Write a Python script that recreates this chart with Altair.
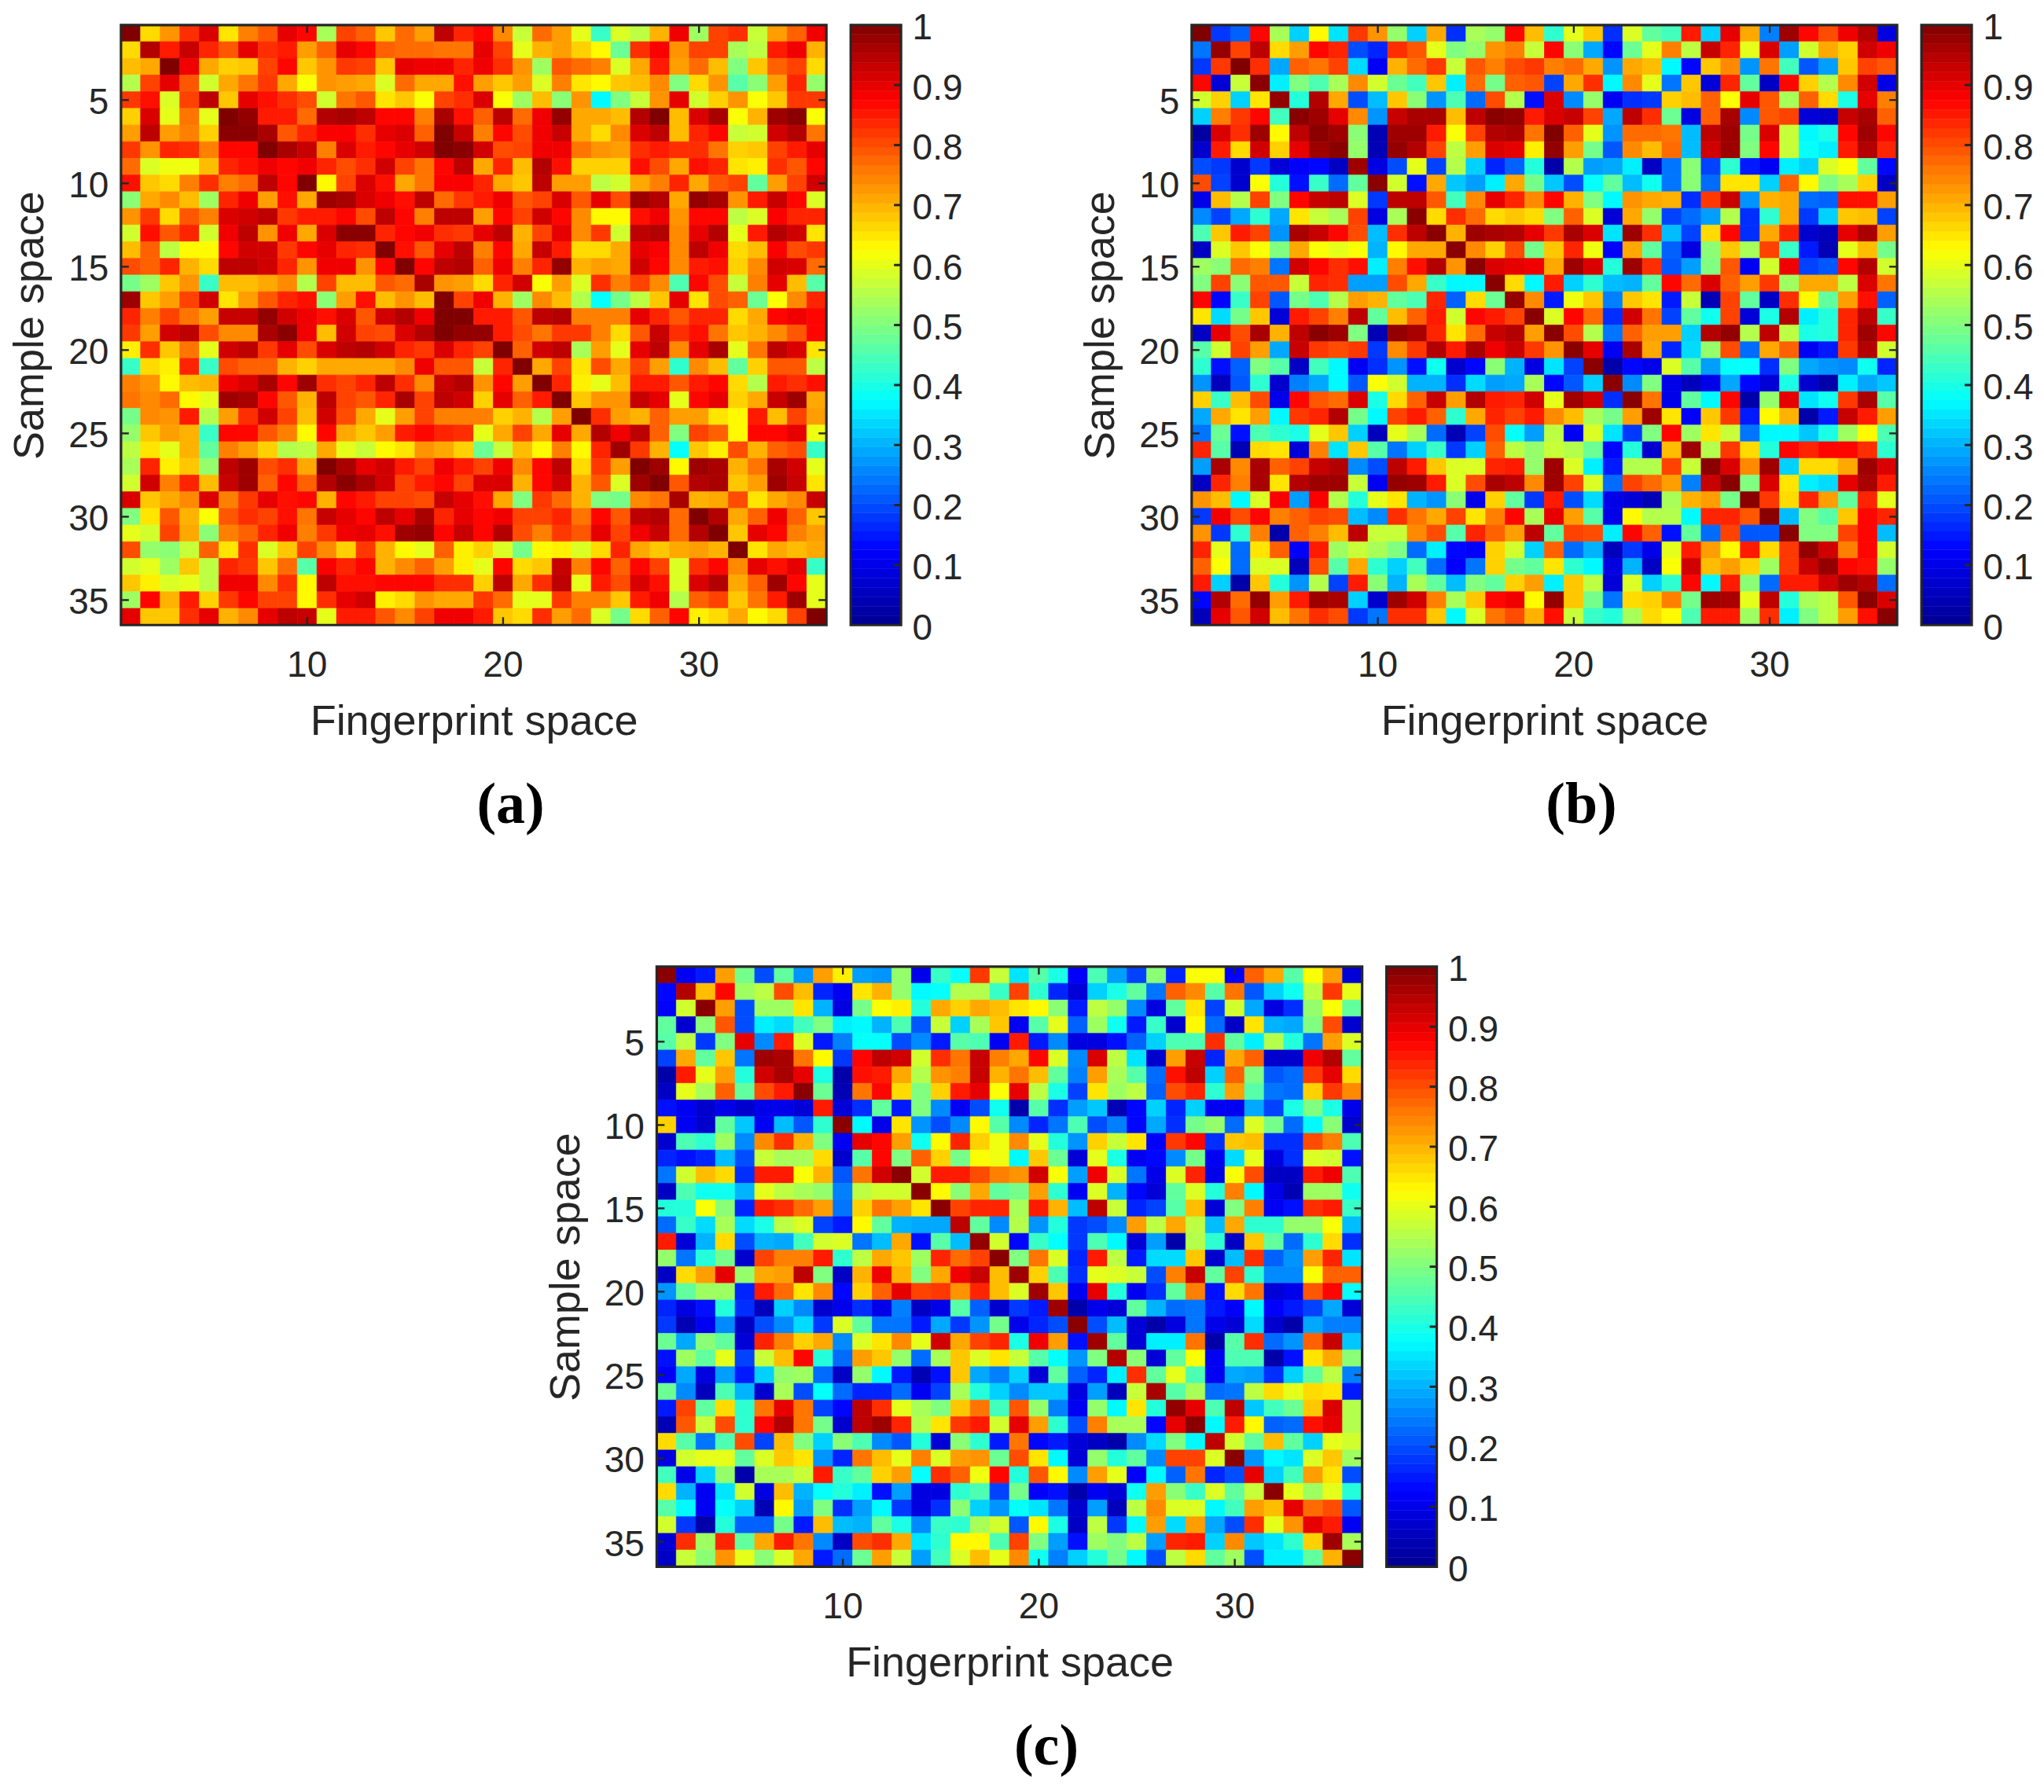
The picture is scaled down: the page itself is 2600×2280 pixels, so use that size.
import altair as alt
import pandas as pd

PANEL_A = [
[100,66,73,83,91,65,75,79,90,87,54,81,78,68,77,72,94,84,87,74,57,77,72,60,43,59,56,70,89,53,81,83,57,72,78,89],
[66,95,85,93,84,79,90,83,85,72,78,90,87,78,77,77,76,76,90,81,60,70,72,67,63,48,83,88,73,81,81,54,56,85,89,70],
[69,71,100,89,71,67,68,81,87,68,73,82,81,68,90,89,89,84,89,83,73,53,79,77,75,59,71,85,72,77,69,50,68,78,81,66],
[55,81,90,79,58,71,76,82,71,62,73,72,71,59,77,71,71,86,72,68,72,59,75,65,63,68,69,74,50,66,73,46,51,72,84,52],
[82,86,59,81,94,68,90,86,83,80,58,76,79,65,68,62,81,83,91,62,53,69,51,73,37,50,57,73,90,58,67,73,62,68,82,82],
[67,91,60,76,60,100,98,85,85,77,95,96,94,87,87,75,96,86,78,94,77,89,98,71,71,69,95,100,69,91,96,62,70,97,99,62],
[72,94,72,75,67,99,99,96,79,84,88,88,83,90,91,78,100,93,75,87,80,89,93,71,66,74,91,94,69,84,87,57,58,92,95,76],
[82,73,84,83,75,87,87,100,96,93,75,91,85,87,90,92,100,99,92,80,81,89,89,76,73,72,83,85,83,83,76,67,68,81,85,90],
[77,59,61,61,69,84,86,89,87,89,84,80,83,92,81,76,87,94,71,84,69,95,86,67,67,67,86,80,71,86,84,65,64,83,79,87],
[86,68,66,75,83,75,77,94,87,100,63,81,91,86,71,76,88,88,84,71,68,94,72,72,56,58,71,75,84,71,79,81,47,72,81,92],
[51,71,74,69,53,84,89,72,86,71,97,96,91,89,86,94,77,82,85,89,79,81,91,79,90,80,97,95,71,98,96,73,85,93,87,59],
[73,82,66,79,75,91,92,94,82,85,85,87,80,94,87,75,94,94,72,87,81,92,87,74,63,63,86,89,73,87,87,56,59,88,84,84],
[58,86,79,84,58,89,94,73,89,71,91,99,99,84,87,89,83,82,90,94,70,81,90,74,82,58,94,95,74,90,95,60,85,95,92,65],
[69,78,56,63,63,87,92,92,82,87,90,84,83,100,86,79,90,94,75,87,71,93,85,66,66,71,90,88,74,94,89,66,69,88,80,82],
[80,78,84,70,66,94,94,92,84,73,89,89,73,87,100,87,94,95,78,89,75,84,98,70,72,71,92,87,74,85,86,67,74,92,91,77],
[49,53,68,73,43,69,69,71,74,55,81,69,69,79,77,96,73,72,66,84,92,62,72,59,83,75,81,74,45,87,80,57,75,90,69,46],
[97,68,72,81,92,65,72,79,84,86,51,72,86,69,73,69,100,81,89,70,53,74,69,55,38,49,56,68,90,65,80,78,48,62,74,84],
[84,75,81,76,72,93,93,98,92,89,86,91,79,92,95,89,100,100,85,85,79,94,95,75,75,75,90,84,79,84,84,66,71,87,89,87],
[82,72,92,94,80,74,74,96,99,89,69,92,81,80,91,95,100,98,98,85,80,76,82,82,75,66,79,93,83,86,76,68,70,74,79,87],
[64,83,68,76,60,92,94,82,90,80,91,94,95,92,84,82,91,84,81,100,78,92,94,54,72,60,90,94,74,90,96,60,76,94,91,65],
[43,66,64,84,43,80,78,78,70,67,71,71,71,71,74,89,79,79,57,84,100,71,81,65,80,71,81,72,42,74,69,47,67,79,79,56],
[75,73,63,69,70,89,91,96,87,97,83,81,84,94,83,74,93,95,73,87,72,100,84,64,60,69,85,85,79,85,87,66,55,85,83,86],
[76,74,77,63,60,97,96,87,79,70,94,81,79,84,96,81,94,92,67,90,78,85,100,68,73,73,93,90,60,87,90,67,71,93,97,71],
[49,74,73,85,55,72,83,92,81,69,92,80,71,60,72,81,75,75,75,67,70,55,72,100,83,72,70,78,72,72,65,63,85,69,81,72],
[52,68,72,70,43,87,87,79,75,63,87,71,68,72,85,87,84,83,60,71,81,71,90,71,95,89,94,78,50,81,78,63,87,87,90,61],
[56,65,60,70,47,75,72,67,55,56,71,60,57,63,65,73,71,67,48,57,69,63,75,63,84,97,82,70,38,68,64,80,70,78,80,43],
[54,84,64,68,52,94,97,80,83,71,100,96,90,92,85,81,89,85,81,89,74,87,94,66,82,72,100,97,63,97,96,70,76,96,92,60],
[58,92,75,84,69,93,97,78,87,78,95,99,96,92,81,85,87,81,91,91,70,87,92,70,79,59,97,100,79,95,96,68,72,97,93,65],
[91,68,71,74,91,75,82,90,86,87,70,87,85,81,81,80,93,90,86,71,50,82,77,70,50,49,74,76,96,70,71,80,65,71,74,93],
[50,65,79,70,62,79,83,81,86,76,93,90,87,94,90,96,84,90,87,89,81,81,84,76,87,79,94,95,77,100,95,71,78,89,78,68],
[60,58,81,71,51,75,78,84,89,75,82,89,90,86,97,98,87,93,87,95,80,75,82,79,90,81,89,93,77,95,100,68,90,87,75,72],
[80,52,51,57,78,65,83,59,68,81,74,67,82,70,63,60,78,64,67,59,49,63,64,59,66,84,71,68,71,72,70,100,65,71,69,71],
[58,60,53,68,56,84,82,68,77,46,88,84,87,70,74,78,72,64,60,87,66,68,93,75,87,78,87,81,59,83,87,74,90,86,90,43],
[68,64,59,60,56,89,89,74,83,63,94,86,86,87,87,87,83,83,67,94,71,83,94,60,85,80,91,86,59,91,95,71,78,97,87,60],
[53,87,70,85,67,82,87,81,81,63,83,90,92,64,66,73,71,71,82,77,60,60,82,75,75,68,85,89,55,78,81,68,76,85,97,60],
[90,68,68,83,90,70,74,90,94,93,60,85,85,79,74,81,89,89,85,68,66,83,72,77,59,49,66,78,87,64,66,71,63,66,81,100],
]

PANEL_B = [
[100,18,22,87,54,33,63,35,82,73,52,33,71,17,54,52,87,69,42,60,68,17,59,47,44,85,33,90,71,25,97,87,80,89,95,9],
[24,98,81,94,66,72,87,84,20,16,83,79,60,50,52,73,75,57,87,51,29,13,48,60,75,56,93,84,60,91,28,58,71,67,92,89],
[18,82,100,83,29,78,76,81,34,11,70,77,82,57,79,75,80,82,75,77,71,27,71,69,37,13,68,74,27,76,44,21,28,68,81,79],
[87,8,57,99,36,50,45,54,74,58,48,44,68,36,77,49,78,79,19,71,83,37,74,60,24,68,8,84,47,6,87,67,55,74,92,10],
[58,67,33,65,98,41,95,71,20,31,68,51,27,45,23,80,55,14,91,26,52,11,17,18,67,69,78,62,90,79,54,78,66,40,90,75],
[33,75,82,87,44,99,97,90,74,27,93,96,96,69,94,99,98,85,91,93,81,29,94,83,48,9,78,96,26,79,81,8,7,93,96,78],
[2,91,83,97,63,94,99,97,51,4,97,97,85,62,81,95,96,76,100,78,60,27,77,77,76,31,94,97,49,91,57,37,40,87,97,87],
[7,85,66,92,67,90,97,99,52,4,98,95,81,56,72,91,90,64,98,72,49,21,74,69,77,31,92,97,50,87,57,38,36,85,95,84],
[20,18,7,18,8,12,13,6,97,9,20,60,19,55,33,16,22,41,3,55,28,29,36,6,24,51,19,42,15,11,36,33,59,62,47,13],
[80,19,7,62,41,14,43,23,47,99,58,14,71,32,28,36,71,49,32,20,38,47,31,39,24,51,23,65,65,33,78,63,50,54,67,6],
[10,69,55,81,50,87,93,94,59,18,94,94,79,44,74,90,84,74,87,70,50,37,73,71,70,17,82,93,27,70,71,23,22,86,86,72],
[26,19,29,42,29,65,57,54,81,9,54,99,66,83,77,66,68,66,50,78,59,8,71,52,19,23,28,55,17,42,71,18,33,68,69,19],
[45,68,85,81,27,96,93,87,80,31,83,94,99,70,97,96,95,90,82,96,91,35,97,83,31,19,66,87,17,71,84,7,5,90,96,72],
[6,59,68,62,50,71,62,60,62,30,63,71,71,99,74,67,80,49,68,84,61,12,71,47,22,9,51,68,54,81,43,15,4,60,69,49],
[53,51,77,75,24,92,87,83,86,36,75,86,95,73,99,91,90,89,71,97,91,41,97,83,21,28,50,79,11,58,89,19,21,87,95,58],
[50,81,51,79,79,57,84,83,28,28,80,71,43,37,37,99,66,37,85,33,42,31,30,47,87,77,91,78,72,82,53,71,71,56,91,76],
[87,13,43,81,21,49,45,55,72,70,47,45,84,22,66,48,98,74,15,61,68,25,68,65,15,57,4,81,47,6,83,63,47,72,86,22],
[65,34,49,68,8,85,81,75,94,47,69,78,85,58,87,85,81,99,59,87,77,17,92,76,19,47,39,81,8,40,95,36,41,84,94,43],
[6,90,80,96,70,94,99,97,50,4,98,96,84,65,77,93,95,72,99,80,55,24,78,72,72,33,95,98,55,94,56,40,41,84,97,87],
[46,58,81,72,29,93,82,80,82,18,74,82,95,85,96,89,93,82,73,99,90,11,96,71,16,34,52,80,23,71,78,11,15,82,95,58],
[42,14,22,50,46,6,44,37,11,17,27,14,39,7,13,51,30,9,35,19,99,3,13,10,59,46,28,38,38,17,50,29,27,26,39,16],
[27,5,21,42,7,25,29,37,21,62,58,30,30,17,34,28,29,54,13,21,33,99,26,50,10,5,10,29,13,8,40,7,3,36,29,32],
[67,43,69,80,10,87,79,77,91,40,66,78,93,72,95,85,84,92,60,97,92,17,99,76,10,47,37,87,3,52,90,35,39,82,96,46],
[29,71,65,72,37,82,84,95,49,37,81,85,78,42,71,84,81,85,74,69,54,49,72,97,65,12,68,82,15,63,70,3,15,93,85,72],
[24,48,14,45,42,40,60,68,33,5,60,54,23,4,19,80,38,28,56,11,59,35,18,50,87,53,65,57,24,37,37,32,40,53,63,45],
[84,46,4,66,65,8,75,35,68,46,24,33,43,18,33,78,56,52,57,55,48,13,41,7,69,97,55,82,66,41,87,84,87,87,83,42],
[28,96,74,96,78,81,93,95,26,20,94,85,68,59,59,84,85,52,97,59,36,15,55,55,81,57,99,91,74,97,33,66,66,71,97,91],
[6,84,75,96,65,95,97,97,57,11,98,97,85,59,80,96,94,74,97,81,59,23,81,77,72,25,93,99,50,91,65,36,34,90,96,85],
[73,69,37,59,88,28,88,55,41,60,65,30,27,51,10,67,47,18,85,20,34,10,8,4,54,70,72,49,99,82,66,84,72,47,84,60],
[18,89,80,87,75,78,81,80,31,26,83,76,71,81,65,75,87,54,90,72,46,10,63,55,55,37,84,84,79,99,31,50,46,68,87,84],
[73,18,42,75,3,78,75,69,94,57,57,74,80,46,84,78,72,94,47,81,80,36,87,78,14,47,23,81,21,21,99,50,50,81,87,31],
[84,60,23,65,78,12,85,53,57,54,50,23,36,13,12,67,58,33,78,23,30,5,18,10,60,85,72,63,85,66,82,98,92,75,87,58],
[78,62,23,59,59,5,80,46,71,42,33,44,23,12,24,67,49,47,65,42,37,9,30,6,62,92,69,72,67,53,82,93,98,87,86,52],
[85,33,3,68,41,27,55,19,85,51,30,54,47,31,50,47,67,72,36,68,56,8,59,33,42,87,37,85,51,23,85,85,92,97,95,23],
[13,95,77,98,72,85,97,96,33,7,97,92,75,54,68,87,89,63,98,68,49,24,66,67,75,49,97,96,60,94,41,54,56,79,99,91],
[5,90,79,92,69,76,83,80,18,24,83,83,68,37,59,76,80,70,86,57,43,41,54,66,63,45,85,85,53,83,36,50,56,72,86,99],
]

PANEL_C = [
[99,11,15,72,49,20,47,27,72,64,28,27,52,10,43,38,82,57,35,46,40,12,45,28,19,51,16,62,62,12,78,71,46,62,72,8],
[13,95,69,87,53,56,80,69,16,11,65,70,52,37,38,55,55,43,81,42,16,8,33,40,47,24,78,74,46,76,21,33,39,56,82,60],
[12,58,99,72,20,53,53,65,30,9,49,62,64,41,71,67,71,69,65,63,51,15,56,52,26,9,47,65,19,58,29,9,17,52,62,47],
[47,7,51,79,20,36,34,44,50,36,37,30,45,21,57,33,54,68,11,46,60,22,53,39,15,43,7,63,23,6,65,30,29,50,80,7],
[46,56,18,50,90,26,85,59,15,25,38,38,20,26,15,46,45,11,85,15,26,9,9,14,22,33,45,45,83,47,36,55,41,24,72,59],
[19,71,47,68,24,97,96,76,63,18,87,94,92,58,83,76,93,75,71,87,59,26,91,56,35,7,72,93,16,71,78,7,7,89,95,47],
[3,85,60,72,41,92,96,90,40,3,86,85,71,55,73,75,93,70,76,69,47,25,72,54,46,23,86,94,33,78,50,21,23,82,90,66],
[6,60,54,78,47,80,85,99,48,4,76,87,66,50,67,85,90,62,90,56,40,19,65,53,56,22,80,84,42,72,46,24,23,67,82,74],
[14,11,7,10,7,10,10,8,85,8,17,47,15,50,26,11,20,39,3,46,17,28,32,4,13,33,16,33,11,11,29,19,40,50,40,10],
[67,11,7,47,32,11,31,21,42,99,37,10,65,27,20,26,63,46,26,16,24,45,20,25,13,29,17,49,52,23,59,49,23,37,51,7],
[7,45,42,53,26,74,83,70,50,11,90,87,72,39,63,84,67,61,74,60,41,27,67,57,65,12,82,87,17,68,69,17,17,80,75,45],
[16,14,16,31,20,57,54,54,66,7,46,87,50,78,67,49,62,61,37,68,48,8,60,40,11,13,26,49,11,34,60,9,17,59,58,14],
[24,58,69,66,17,85,85,62,70,21,76,92,99,58,85,85,80,75,73,92,62,28,89,59,24,10,59,84,10,62,80,6,6,85,89,45],
[6,45,39,39,30,60,56,54,52,25,56,58,58,99,63,51,71,47,49,72,42,11,59,30,13,8,47,59,41,75,37,10,4,53,53,39],
[41,41,62,51,16,85,83,77,72,24,67,76,72,65,99,81,84,84,54,85,70,31,94,57,16,19,46,69,8,50,75,11,14,83,85,43],
[23,43,34,54,34,40,56,59,19,15,63,47,30,29,29,94,47,26,55,27,41,18,20,26,72,56,71,56,31,71,42,42,52,52,62,31],
[85,8,30,66,20,30,29,44,58,59,24,31,71,14,46,31,98,58,13,43,38,18,45,37,8,28,3,55,42,6,68,47,23,42,66,17],
[52,24,41,49,7,81,75,75,85,42,56,71,68,53,84,77,81,99,50,76,59,16,85,56,15,34,34,68,7,31,83,22,27,72,84,35],
[6,66,72,90,52,71,72,94,50,6,70,89,70,50,71,89,93,69,97,67,45,17,60,59,57,20,75,93,47,81,42,26,26,62,78,78],
[27,47,53,53,16,85,77,65,74,13,67,78,90,81,82,73,84,69,59,97,68,11,90,41,11,17,47,75,14,66,76,8,10,79,87,38],
[16,9,14,41,17,5,33,26,7,10,17,10,25,6,10,46,22,7,18,15,97,3,10,8,47,30,23,24,15,12,37,12,15,19,29,8],
[18,4,11,26,6,20,26,34,18,59,47,24,24,15,29,18,27,49,10,16,20,99,20,31,8,3,9,24,10,8,34,7,3,29,25,25],
[48,29,51,47,8,84,75,67,71,26,59,65,74,60,92,71,81,84,40,89,72,14,97,47,8,36,36,76,3,46,83,23,27,78,93,32],
[14,53,47,60,19,57,69,87,41,23,72,68,52,23,54,68,59,65,57,46,38,27,50,95,51,8,47,62,11,45,45,3,14,65,71,51],
[12,29,9,28,15,33,52,53,23,6,52,37,15,4,14,68,29,25,33,8,47,22,16,36,83,47,60,45,11,29,28,17,33,47,56,25],
[48,26,5,45,30,7,54,20,38,23,16,16,23,11,19,54,41,33,26,32,32,9,28,5,57,96,46,54,23,24,56,66,60,66,65,15],
[15,81,47,66,42,76,90,76,19,13,94,83,60,54,50,68,76,44,79,52,25,11,52,37,65,41,98,90,45,94,32,44,48,68,91,55],
[4,79,57,80,42,87,95,76,49,7,94,97,84,55,65,82,85,58,90,72,42,20,75,54,54,13,90,99,37,85,63,22,23,86,90,55],
[66,46,24,45,80,19,69,50,33,51,45,26,21,41,8,51,42,15,76,13,15,8,6,3,26,34,50,37,94,58,47,69,47,33,60,58],
[9,58,60,60,47,59,68,65,27,16,76,69,60,75,59,72,73,48,80,65,37,8,52,41,47,26,81,81,59,99,27,37,35,59,68,53],
[44,10,33,52,3,54,54,57,85,43,47,67,72,38,83,78,61,87,41,79,63,26,72,60,12,37,22,76,16,20,90,33,44,72,65,20],
[66,30,11,35,58,9,69,30,38,41,36,14,28,9,9,42,45,19,49,12,14,3,11,8,39,72,51,43,59,47,57,99,60,53,60,41],
[46,37,11,38,33,4,63,28,50,17,28,37,18,9,17,51,33,27,38,35,24,7,28,5,56,74,59,59,37,44,72,69,90,77,80,21],
[58,18,3,41,22,22,49,15,69,31,30,47,40,26,43,42,54,58,21,63,40,6,56,18,37,72,34,72,29,20,83,60,73,90,85,11],
[8,83,53,84,47,71,85,76,26,6,80,83,71,35,42,63,63,45,81,50,28,14,53,50,56,28,84,85,33,74,32,35,42,67,97,54],
[6,57,51,73,60,51,59,71,15,23,48,72,57,28,44,59,69,60,74,39,25,33,41,49,37,20,56,66,47,53,20,36,36,47,70,99],
]

X_TICKS = [10, 20, 30]
Y_TICKS = [5, 10, 15, 20, 25, 30, 35]
CBAR_TICKS = [0, .1, .2, .3, .4, .5, .6, .7, .8, .9, 1]
CELLS = list(range(1, 37))
JET_STOPS = [0, .125, .375, .625, .875, 1]
JET_COLORS = ["#000090", "#0000ff", "#00ffff", "#ffff00", "#ff0000", "#800000"]

W, H, CB_W = 898, 764, 64
INK = "#262626"
FONT = "Liberation Sans"
jet = alt.Scale(domain=JET_STOPS, range=JET_COLORS, interpolate="rgb", clamp=True)
x_scale = alt.Scale(domain=CELLS, paddingInner=0, paddingOuter=0)
y_scale = alt.Scale(domain=CELLS, paddingInner=0, paddingOuter=0)
cb_scale = alt.Scale(domain=[0, 1], nice=False)
x_axis = alt.Axis(values=X_TICKS, labelAngle=0, labelPadding=29, titlePadding=22)
y_axis = alt.Axis(values=Y_TICKS, labelPadding=16, labelOffset=4, titlePadding=21)
cb_axis = alt.Axis(orient="right", values=CBAR_TICKS, format=".1~f", labelPadding=14, labelOffset=4)
X_TITLE = "Fingerprint space"
Y_TITLE = "Sample space"


def long_table(matrix):
    for i, row in enumerate(matrix):
        if len(row) != 36:
            raise ValueError(f"row {i + 1} has {len(row)} cells")
    if len(matrix) != 36:
        raise ValueError(f"{len(matrix)} rows")
    return pd.DataFrame(
        [{"col": c, "row": r, "v": row[c - 1] / 100}
         for r, row in zip(CELLS, matrix) for c in CELLS]
    )


one = pd.DataFrame({"k": [0]})


def frame(w, h):
    return alt.Chart(one).mark_rect(
        fill="transparent", stroke=INK, strokeWidth=3.2
    ).encode(
        x=alt.value(0), x2=alt.value(w), y=alt.value(0), y2=alt.value(h)
    )


def panel(matrix, letter):
    df = long_table(matrix)
    cells = alt.Chart(df).mark_rect(strokeWidth=0.7).encode(
        x=alt.X("col:O", scale=x_scale, title=X_TITLE, axis=x_axis),
        y=alt.Y("row:O", scale=y_scale, title=Y_TITLE, axis=y_axis),
        fill=alt.Fill("v:Q", scale=jet, legend=None),
        stroke=alt.Stroke("v:Q", scale=jet, legend=None),
    )
    xt = pd.DataFrame({"t": X_TICKS})
    yt = pd.DataFrame({"t": Y_TICKS})
    ex = alt.X("t:O", scale=x_scale, title=X_TITLE, axis=x_axis)
    ey = alt.Y("t:O", scale=y_scale, title=Y_TITLE, axis=y_axis)
    tick = dict(color=INK, strokeWidth=2.4)
    ticks = [
        alt.Chart(xt).mark_rule(**tick).encode(x=ex, y=alt.value(0), y2=alt.value(10)),
        alt.Chart(xt).mark_rule(**tick).encode(x=ex, y=alt.value(H - 10), y2=alt.value(H)),
        alt.Chart(yt).mark_rule(**tick).encode(y=ey, x=alt.value(0), x2=alt.value(10)),
        alt.Chart(yt).mark_rule(**tick).encode(y=ey, x=alt.value(W - 10), x2=alt.value(W)),
    ]
    return alt.layer(cells, *ticks, frame(W, H)).properties(
        width=W, height=H,
        title=alt.TitleParams(
            text=f"({letter})", orient="bottom", anchor="middle", dx=47, offset=44,
            font="Liberation Serif", fontSize=74, fontWeight="bold", color="#000000",
        ),
    )


def colorbar():
    bands = pd.DataFrame({"i": list(range(64))})
    bar = alt.Chart(bands).transform_calculate(
        lo="datum.i/64", hi="(datum.i+1)/64", mid="(datum.i+0.5)/64"
    ).mark_rect(strokeWidth=0.5).encode(
        x=alt.value(0), x2=alt.value(CB_W),
        y=alt.Y("lo:Q", scale=cb_scale, title=None, axis=cb_axis),
        y2="hi:Q",
        fill=alt.Fill("mid:Q", scale=jet, legend=None),
        stroke=alt.Stroke("mid:Q", scale=jet, legend=None),
    )
    ticks = alt.Chart(pd.DataFrame({"t": CBAR_TICKS[1:-1]})).mark_rule(
        color=INK, strokeWidth=3
    ).encode(
        y=alt.Y("t:Q", scale=cb_scale, title=None, axis=cb_axis),
        x=alt.value(CB_W - 9), x2=alt.value(CB_W),
    )
    return alt.layer(bar, ticks, frame(CB_W, H)).properties(width=CB_W, height=H)


def spacer(w):
    return alt.Chart(one).mark_rect(opacity=0).encode(
        x=alt.value(0), y=alt.value(0)
    ).properties(width=w, height=H)


def unit(matrix, letter):
    return alt.hconcat(panel(matrix, letter), colorbar(), spacing=25)


row1 = alt.hconcat(unit(PANEL_A, "a"), unit(PANEL_B, "b"), spacing=148)
row2 = alt.hconcat(spacer(528), unit(PANEL_C, "c"), spacing=10)

chart = alt.vconcat(row1, row2, spacing=147).properties(
    padding={"left": 3, "top": 3, "right": 5, "bottom": 5}, background="white"
).configure_view(
    stroke="transparent"
).configure_axis(
    grid=False, domain=False, ticks=False, labelFont=FONT, titleFont=FONT,
    labelFontSize=46, titleFontSize=54, titleFontWeight="normal",
    labelColor=INK, titleColor=INK,
)

chart.save("out.html", embed_options={"renderer": "svg", "actions": False})
